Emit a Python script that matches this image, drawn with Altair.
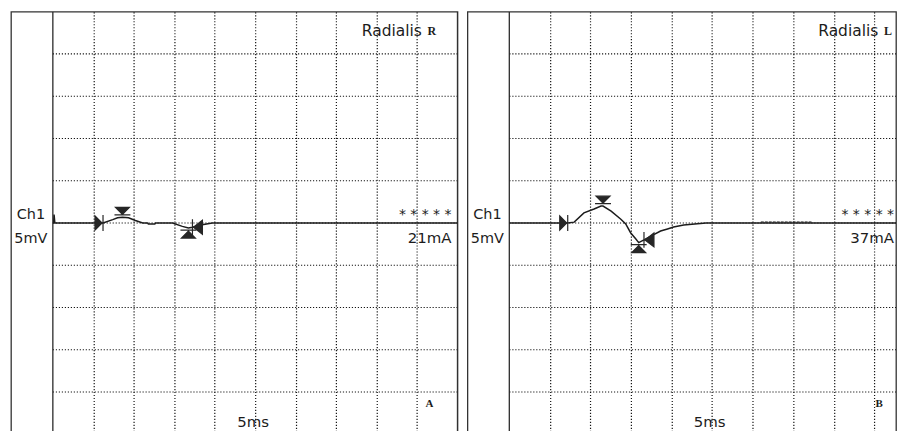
import altair as alt
import pandas as pd

# ---------------- data ----------------
# time in ms (1 ms per division), amplitude in mV (5 mV per division)
left_t = [0, 0.02, 0.03, 0.05, 1.24, 1.48, 1.60, 1.72, 1.87, 2.04, 2.22, 2.34, 2.36, 2.52, 2.54,
          2.96, 3.20, 3.35, 3.45, 3.69, 3.94, 10]
left_v = [0, 0, 1.0, 0, 0, 0.40, 0.62, 0.67, 0.62, 0.30, 0, 0, -0.12, -0.12, 0,
          0, -0.40, -0.60, -0.50, -0.20, 0, 0]

right_t = [0, 1.44, 1.60, 1.84, 2.09, 2.26, 2.31, 2.51, 2.75, 2.87, 2.99, 3.12, 3.19, 3.32,
           3.49, 3.73, 3.90, 4.05, 4.30, 4.64, 4.85, 10]
right_v = [0, 0, 0.10, 1.20, 1.65, 2.00, 2.00, 1.40, 0.45, -0.10, -1.15, -1.90, -2.32, -2.00,
           -1.55, -0.95, -0.70, -0.47, -0.25, -0.08, 0, 0]
right_ripple_t = [6.2, 7.45]
right_ripple_v = [0.12, 0.12]

marker_kinds = ["onset", "peak", "trough", "end"]
left_marker_t = [1.24, 1.72, 3.35, 3.45]
left_marker_v = [0, 0.67, -0.60, -0.50]
right_marker_t = [1.44, 2.31, 3.19, 3.32]
right_marker_v = [0, 2.00, -2.32, -2.00]

h_grid_mv = [-20, -15, -10, -5, 0, 5, 10, 15, 20]
v_grid_ms = [1, 2, 3, 4, 5, 6, 7, 8, 9]

nerve = ["Radialis", "Radialis"]
side = ["R", "L"]
current = ["21mA", "37mA"]
stars = "* * * * *"
channel = ["Ch1", "5mV"]
sweep = "5ms"
panel_letter = ["A", "B"]

# ---------------- style ----------------
FONT = "DejaVu Sans"
SERIF = "Liberation Serif"
INK = "#1c1c1c"
GRID = "#161616"
H = 424
LABEL_COL = 42
marker_paths = {
    "onset": "M-8,-7L-1,0L-8,7Z M0,-8L0,8",
    "peak": "M-7,-10L7,-10L0,-3Z M-8,-2.5L8,-2.5",
    "trough": "M-7,10L7,10L0,3Z M-8,2L8,2",
    "end": "M10,-7L1,0L10,7Z M0,-8L0,8",
}
right_edge_text_x = [442, 428]
letter_x = [420, 413]


def panel(i, t, v, mt, mv, width, px_per_ms, show_right, ripple=None):
    xmin = -LABEL_COL / px_per_ms
    xmax = (width - LABEL_COL) / px_per_ms
    xs = alt.Scale(domain=[xmin, xmax], nice=False, zero=False)
    ys = alt.Scale(domain=[-25, 25], nice=False, zero=False)

    hgrid = alt.Chart(pd.DataFrame({"v": h_grid_mv, "a": [0] * 9, "b": [10] * 9})).mark_rule(
        color=GRID, strokeDash=[1.2, 1.8], strokeWidth=1.2, clip=True
    ).encode(
        x=alt.X("a:Q", scale=xs,
                axis=alt.Axis(values=v_grid_ms, grid=True, gridDash=[1.2, 1.8], gridColor=GRID,
                              gridWidth=1.2, labels=False, ticks=False,
                              domain=False, title=None)),
        x2="b:Q",
        y=alt.Y("v:Q", scale=ys, axis=None),
    )

    edges = [0, 10] if show_right else [0]
    inner = alt.Chart(pd.DataFrame({"t": edges})).mark_rule(
        color="#2a2a2a", strokeWidth=1.3, clip=True
    ).encode(x="t:Q")

    trace = alt.Chart(pd.DataFrame({"t": t, "v": v})).mark_line(
        color=INK, strokeWidth=1.5, clip=True
    ).encode(x="t:Q", y="v:Q")

    layers = [hgrid, inner, trace]
    if ripple is not None:
        layers.append(alt.Chart(pd.DataFrame({"t": ripple[0], "v": ripple[1]})).mark_line(
            color=INK, strokeWidth=1, strokeDash=[3, 1]).encode(x="t:Q", y="v:Q"))

    for k, tt, vv in zip(marker_kinds, mt, mv):
        layers.append(alt.Chart(pd.DataFrame({"t": [tt], "v": [vv]})).mark_point(
            shape=marker_paths[k], filled=True, size=4, fill="#262626", stroke="#262626",
            strokeWidth=1.2, opacity=1
        ).encode(x="t:Q", y="v:Q"))

    def txt(s, x, y, size, align="left", font=FONT, weight="normal"):
        return alt.Chart(pd.DataFrame({"s": [s]})).mark_text(
            fontSize=size, font=font, fontWeight=weight, align=align,
            baseline="alphabetic", color=INK, clip=True
        ).encode(x=alt.value(x), y=alt.value(y), text="s:N")

    rx = right_edge_text_x[i]
    layers += [
        txt(channel[0], 20, 208, 14.5, "center"),
        txt(channel[1], 20, 232, 14.5, "center"),
        txt(nerve[i], 352, 24, 15.5),
        txt(side[i], 418, 23, 12, font=SERIF, weight="bold"),
        txt(stars, rx, 208, 14, "right"),
        txt(current[i], rx, 232, 15, "right"),
        txt(sweep, 243, 417, 15, "center"),
        txt(panel_letter[i], letter_x[i], 397, 11, "center", font=SERIF, weight="bold"),
    ]
    return alt.layer(*layers).properties(width=width, height=H)


left = panel(0, left_t, left_v, left_marker_t, left_marker_v, 448, 40.6, True)
right = panel(1, right_t, right_v, right_marker_t, right_marker_v, 430, 40.7, False,
              ripple=(right_ripple_t, right_ripple_v))

chart = alt.hconcat(left, right, spacing=8).properties(
    padding={"left": 2, "top": 2, "right": 0, "bottom": 0},
    background="white",
).configure_view(stroke="#333333", strokeWidth=1.3)

chart.save("out.html", embed_options={"renderer": "svg", "actions": False})
